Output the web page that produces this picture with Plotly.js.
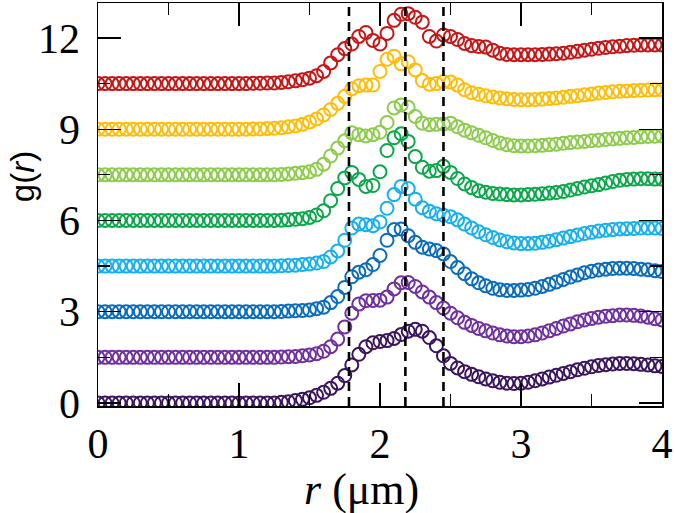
<!DOCTYPE html>
<html>
<head>
<meta charset="utf-8">
<script src="https://cdn.plot.ly/plotly-3.0.1.min.js"></script>
<style>
  body { margin: 0; background: #ffffff; }
  #plot { width: 675px; height: 513px; }
</style>
</head>
<body>
<div id="plot"></div>
<script>
// r grid: 0 .. 4 in steps of 0.05 (81 points)
const rVals = [0.00,0.05,0.10,0.15,0.20,0.25,0.30,0.35,0.40,0.45,0.50,0.55,0.60,0.65,0.70,0.75,0.80,0.85,0.90,0.95,
  1.00,1.05,1.10,1.15,1.20,1.25,1.30,1.35,1.40,1.45,1.50,1.55,1.60,1.65,1.70,1.75,1.80,1.85,1.90,1.95,
  2.00,2.05,2.10,2.15,2.20,2.25,2.30,2.35,2.40,2.45,2.50,2.55,2.60,2.65,2.70,2.75,2.80,2.85,2.90,2.95,
  3.00,3.05,3.10,3.15,3.20,3.25,3.30,3.35,3.40,3.45,3.50,3.55,3.60,3.65,3.70,3.75,3.80,3.85,3.90,3.95,4.00];

// g(r) of each curve, bottom to top
const g0 = [0,0,0,0,0,0,0,0,0,0,0,0,0,0,0,0,0,0,0,0,
  0,0,0,0,0,0,0.02,0.04,0.08,0.12,0.17,0.25,0.35,0.48,0.65,0.9,1.25,1.6,1.85,1.98,
  2.02,2.05,2.12,2.25,2.36,2.42,2.36,2.15,1.88,1.55,1.3,1.15,1.03,0.94,0.86,0.79,0.73,0.68,0.65,0.64,
  0.65,0.68,0.73,0.79,0.85,0.91,0.97,1.03,1.09,1.14,1.19,1.23,1.26,1.28,1.3,1.3,1.29,1.27,1.25,1.22,1.2];
const g1 = [0,0,0,0,0,0,0,0,0,0,0,0,0,0,0,0,0,0,0,0,
  0,0,0,0,0,0,0.01,0.02,0.03,0.05,0.08,0.12,0.2,0.35,0.6,1.0,1.45,1.75,1.86,1.87,
  1.88,1.98,2.25,2.45,2.46,2.33,2.15,1.98,1.8,1.62,1.45,1.3,1.15,1.05,0.95,0.87,0.8,0.74,0.7,0.68,
  0.68,0.7,0.74,0.8,0.87,0.95,1.03,1.1,1.17,1.23,1.28,1.32,1.35,1.37,1.39,1.39,1.38,1.36,1.32,1.27,1.23];
const g2 = [0,0,0,0,0,0,0,0,0,0,0,0,0,0,0,0,0,0,0,0,
  0,0,0,0,0,0,0.01,0.02,0.03,0.04,0.06,0.1,0.15,0.3,0.5,0.8,1.15,1.3,1.38,1.55,
  1.85,2.35,2.7,2.72,2.5,2.28,2.12,2.06,2.01,1.9,1.65,1.45,1.25,1.08,0.95,0.85,0.77,0.72,0.7,0.7,
  0.71,0.73,0.77,0.83,0.9,0.98,1.06,1.14,1.21,1.28,1.33,1.37,1.4,1.42,1.43,1.43,1.42,1.4,1.38,1.35,1.32];
const g3 = [0,0,0,0,0,0,0,0,0,0,0,0,0,0,0,0,0,0,0,0,
  0,0,0,0,0,0,0.01,0.02,0.03,0.05,0.07,0.1,0.15,0.3,0.5,0.85,1.25,1.38,1.36,1.33,
  1.45,1.9,2.35,2.62,2.55,2.2,1.92,1.8,1.72,1.67,1.62,1.52,1.38,1.25,1.13,1.03,0.94,0.86,0.8,0.76,
  0.74,0.74,0.75,0.78,0.82,0.87,0.92,0.97,1.02,1.07,1.11,1.15,1.18,1.2,1.22,1.23,1.24,1.25,1.25,1.25,1.24];
const g4 = [0,0,0,0,0,0,0,0,0,0,0,0,0,0,0,0,0,0,0,0,
  0,0,0,0,0,0,0.01,0.02,0.04,0.06,0.1,0.18,0.32,0.65,1.05,1.4,1.58,1.35,1.12,1.15,
  1.6,2.3,2.72,2.85,2.6,2.1,1.75,1.62,1.64,1.78,1.58,1.38,1.2,1.08,0.98,0.93,0.89,0.87,0.85,0.84,
  0.84,0.85,0.86,0.88,0.9,0.92,0.95,1.0,1.05,1.1,1.14,1.18,1.23,1.28,1.32,1.35,1.36,1.37,1.37,1.36,1.36];
const g5 = [0,0,0,0,0,0,0,0,0,0,0,0,0,0,0,0,0,0,0,0,
  0,0,0,0,0,0,0.01,0.03,0.05,0.07,0.1,0.18,0.35,0.62,0.88,1.12,1.38,1.32,1.28,1.32,
  1.4,1.72,2.2,2.3,2.22,1.92,1.7,1.65,1.66,1.67,1.7,1.58,1.47,1.38,1.3,1.22,1.13,1.05,0.99,0.96,
  0.95,0.95,0.96,0.97,0.99,1.01,1.04,1.06,1.08,1.1,1.12,1.14,1.16,1.18,1.2,1.22,1.23,1.25,1.26,1.27,1.28];
const g6 = [0,0,0,0,0,0,0,0,0,0,0,0,0,0,0,0,0,0,0,0,
  0,0,0.01,0.01,0.02,0.03,0.05,0.08,0.11,0.16,0.24,0.34,0.47,0.65,0.85,1.08,1.33,1.43,1.45,1.45,
  1.9,2.3,2.4,2.15,2.22,1.95,1.6,1.48,1.5,1.56,1.55,1.45,1.3,1.2,1.15,1.1,1.06,1.03,1.0,0.98,
  0.97,0.97,0.98,0.99,1.01,1.03,1.05,1.08,1.1,1.13,1.16,1.19,1.21,1.23,1.25,1.26,1.27,1.28,1.29,1.3,1.3];
const g7 = [0,0,0,0,0,0,0,0,0,0,0,0,0,0,0,0,0,0,0,0,
  0,0,0.01,0.01,0.02,0.02,0.04,0.06,0.09,0.13,0.18,0.26,0.4,0.68,0.95,1.15,1.3,1.55,1.68,1.42,
  1.3,1.65,2.08,2.28,2.3,2.18,2.02,1.55,1.4,1.6,1.55,1.45,1.32,1.25,1.22,1.2,1.1,1.0,0.96,0.95,
  0.95,0.95,0.95,0.96,0.97,0.98,1.0,1.03,1.06,1.1,1.13,1.16,1.19,1.21,1.23,1.25,1.26,1.27,1.27,1.27,1.27];

const curves = [g0, g1, g2, g3, g4, g5, g6, g7];
const offsets = [0, 1.5, 3, 4.5, 6, 7.5, 9, 10.5];
const colors = ['#3c1560', '#7030a0', '#0a6cbd', '#16b0ee', '#0aa84a', '#8dcc4c', '#ffbd08', '#c61616'];

// dashed guide lines (r in um)
const refLines = [1.78, 2.18, 2.45];

const data = curves.map(function(g, i) {
    return {
        x: rVals,
        y: g.map(v => v + offsets[i]),
        type: 'scatter',
        mode: 'markers',
        marker: {
            symbol: 'circle-open',
            size: 13,
            color: colors[i],
            line: { width: 2, color: colors[i] }
        },
        hoverinfo: 'skip'
    };
});

const shapes = refLines.map(function(v) {
    return {
        type: 'line', xref: 'x', yref: 'paper',
        x0: v, x1: v, y0: 0, y1: 1,
        line: { color: '#000000', width: 2.6, dash: '9px,6px' }
    };
});

const serif = 'Liberation Serif, Times New Roman, serif';
const tickFont = { family: serif, size: 42, color: '#000000' };

// axis titles placed as annotations so they sit where the original has them
const annotations = [
    {
        text: '<i>r</i> (μm)', xref: 'paper', yref: 'paper',
        x: 0.468, y: -0.208, xanchor: 'center', yanchor: 'middle',
        showarrow: false,
        font: { family: serif, size: 44, color: '#000000' }
    },
    {
        text: 'g(<i>r</i>)', xref: 'paper', yref: 'paper',
        x: -0.135, y: 0.57, xanchor: 'center', yanchor: 'middle',
        textangle: -90, showarrow: false,
        font: { family: 'Liberation Sans, Arial, sans-serif', size: 33, color: '#000000' }
    }
];

const layout = {
    width: 675,
    height: 513,
    margin: { l: 98, r: 13, t: 3, b: 107 },
    paper_bgcolor: '#ffffff',
    plot_bgcolor: '#ffffff',
    showlegend: false,
    xaxis: {
        range: [0, 4],
        tick0: 0,
        dtick: 1,
        ticks: 'inside',
        ticklen: 23,
        tickwidth: 1.2,
        tickcolor: '#000000',
        minor: { dtick: 0.5, ticks: 'inside', ticklen: 12, tickwidth: 1.2, tickcolor: '#000000' },
        showline: true,
        linecolor: '#000000',
        linewidth: 1.5,
        mirror: 'allticks',
        showgrid: false,
        zeroline: false,
        tickfont: tickFont,
        ticklabelstandoff: 0
    },
    yaxis: {
        range: [-0.1, 13.15],
        tick0: 0,
        dtick: 3,
        ticks: 'inside',
        ticklen: 23,
        tickwidth: 1.2,
        tickcolor: '#000000',
        minor: { dtick: 1.5, ticks: 'inside', ticklen: 12, tickwidth: 1.2, tickcolor: '#000000' },
        showline: true,
        linecolor: '#000000',
        linewidth: 1.5,
        mirror: 'allticks',
        showgrid: false,
        zeroline: false,
        tickfont: tickFont,
        ticklabelstandoff: 8
    },
    shapes: shapes,
    annotations: annotations
};

Plotly.newPlot('plot', data, layout, { displayModeBar: false, staticPlot: true });
</script>
</body>
</html>
